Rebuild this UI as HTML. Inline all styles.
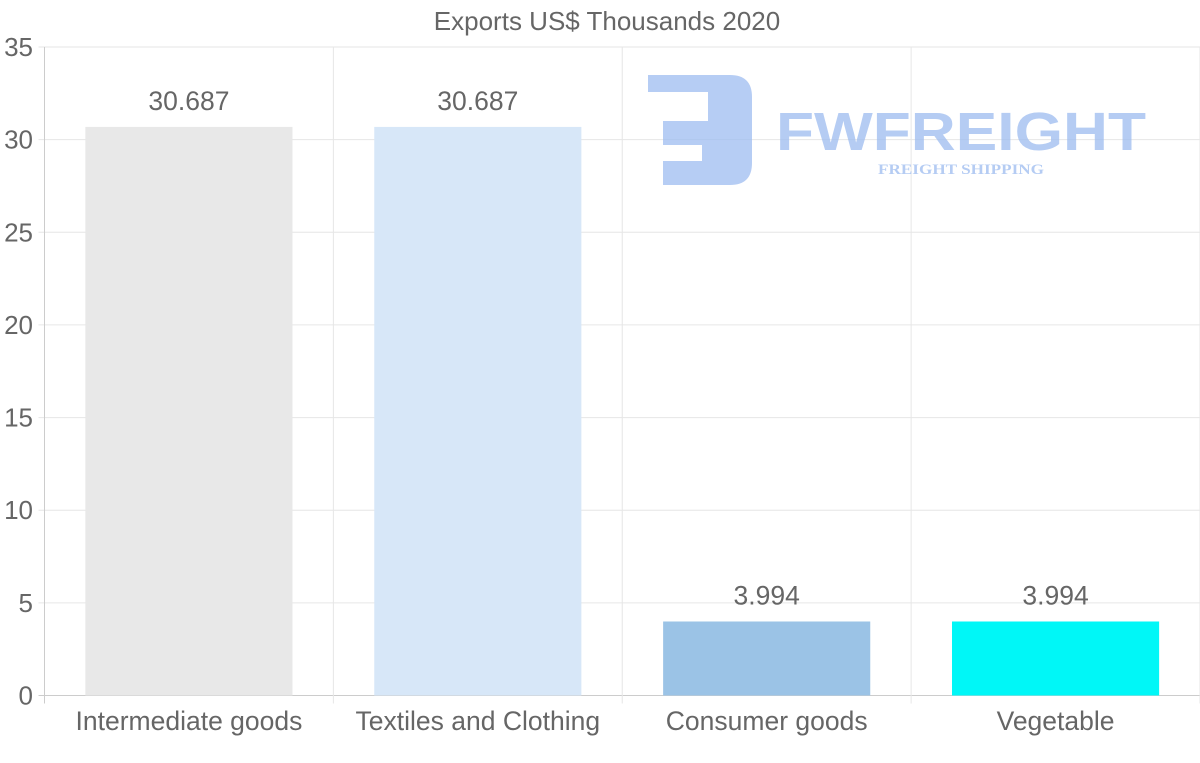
<!DOCTYPE html>
<html><head><meta charset="utf-8"><style>
html,body{margin:0;padding:0;background:#fff;width:1200px;height:763px;overflow:hidden}
svg{display:block;font-family:"Liberation Sans",Arial,sans-serif}
</style></head><body>
<svg id="chart" width="1200" height="763">
<text x="607" y="30" text-anchor="middle" font-size="26" fill="#666">Exports US$ Thousands 2020</text>
<g id="grid"></g>
<g id="wm" opacity="0.75">
<path d="M648 75 H730 Q752 75 752 97 V163 Q752 185 730 185 H663 V161 H702 V145 H663 V121 H708 V92 H648 Z" fill="#9dbcf0"/>
<text x="776" y="150" font-size="54" font-weight="bold" fill="#9dbcf0" textLength="370" lengthAdjust="spacingAndGlyphs">FWFREIGHT</text>
<text x="878" y="174" font-size="15" font-weight="bold" font-family="Liberation Serif,serif" fill="#9dbcf0" textLength="166" lengthAdjust="spacingAndGlyphs">FREIGHT SHIPPING</text>
</g>
<g id="bars"></g>
<g id="labels"></g>
</svg>
<script>
const categories=["Intermediate goods","Textiles and Clothing","Consumer goods","Vegetable"];
const values=[30.687,30.687,3.994,3.994];
const valueLabels=["30.687","30.687","3.994","3.994"];
const yTicks=[0,5,10,15,20,25,30,35];
const colors=["#e8e8e8","#d7e7f8","#9bc3e6","#00f7f7"];
const NS="http://www.w3.org/2000/svg";
const L=44.5,R=1200,T=47,B=695.5,YMAX=35;
const y=v=>B-(v/YMAX)*(B-T);
const bw=(R-L)/categories.length;
const x=i=>L+bw*i;
function mk(t,a,p){const e=document.createElementNS(NS,t);for(const k in a)e.setAttribute(k,a[k]);p.appendChild(e);return e;}
const g=document.getElementById('grid'),gb=document.getElementById('bars'),gl=document.getElementById('labels');
yTicks.forEach(t=>{
 const ln=mk('line',{x1:L-6,x2:R,y1:y(t),y2:y(t),stroke:t===0?'#ccc':'#e6e6e6','stroke-width':1},g);
 
 
 const tx=mk('text',{x:33,y:y(t)+9,'text-anchor':'end','font-size':26,fill:'#666'},g);tx.textContent=t;
 
 
});
for(let i=0;i<=categories.length;i++){
 const ln=mk('line',{x1:x(i),x2:x(i),y1:T,y2:B+8,stroke:i===0?'#ccc':'#e6e6e6','stroke-width':1},g);
 
 
}
categories.forEach((c,i)=>{
 const cx=x(i)+bw/2,w=bw*0.717;
 const r=mk('rect',{x:cx-w/2,y:y(values[i]),width:w,height:B-y(values[i]),fill:colors[i]},gb);
 
 
 const vl=mk('text',{x:cx,y:y(values[i])-17,'text-anchor':'middle','font-size':26.5,fill:'#666'},gl);vl.textContent=valueLabels[i];
 
 
 const xl=mk('text',{x:cx,y:730,'text-anchor':'middle','font-size':26.5,fill:'#666'},gl);xl.textContent=c;
 
 
});
</script>
</body></html>
